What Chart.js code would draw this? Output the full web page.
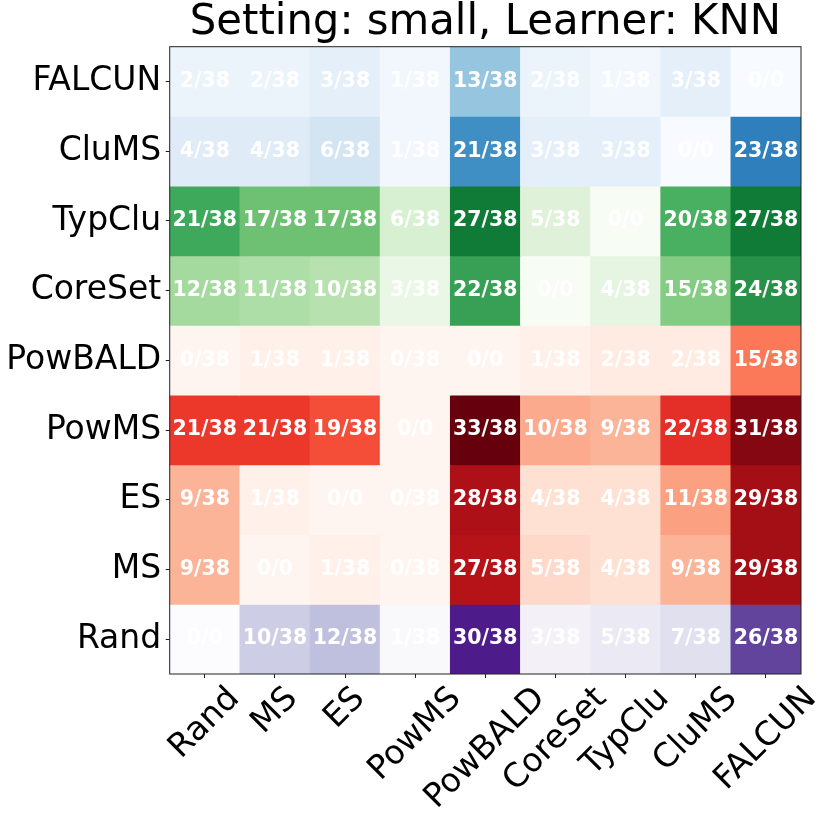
<!DOCTYPE html>
<html>
<head>
<meta charset="utf-8">
<title>Setting: small, Learner: KNN</title>
<script src="https://cdn.jsdelivr.net/npm/chart.js@4.4.0/dist/chart.umd.min.js"></script>
<style>
    html, body { margin: 0; padding: 0; background: #fff; }
    #wrap { width: 830px; height: 821px; }
</style>
</head>
<body>
<div id="wrap"><canvas id="heat"></canvas></div>
<script>
// Win matrix: row strategy vs column strategy, "wins / runs"
const columns = ['Rand', 'MS', 'ES', 'PowMS', 'PowBALD', 'CoreSet', 'TypClu', 'CluMS', 'FALCUN'];
const rows = ['FALCUN', 'CluMS', 'TypClu', 'CoreSet', 'PowBALD', 'PowMS', 'ES', 'MS', 'Rand'];

const winsFALCUN  = [2, 2, 3, 1, 13, 2, 1, 3, 0];
const winsCluMS   = [4, 4, 6, 1, 21, 3, 3, 0, 23];
const winsTypClu  = [21, 17, 17, 6, 27, 5, 0, 20, 27];
const winsCoreSet = [12, 11, 10, 3, 22, 0, 4, 15, 24];
const winsPowBALD = [0, 1, 1, 0, 0, 1, 2, 2, 15];
const winsPowMS   = [21, 21, 19, 0, 33, 10, 9, 22, 31];
const winsES      = [9, 1, 0, 0, 28, 4, 4, 11, 29];
const winsMS      = [9, 0, 1, 0, 27, 5, 4, 9, 29];
const winsRand    = [0, 10, 12, 1, 30, 3, 5, 7, 26];

const runsFALCUN  = [38, 38, 38, 38, 38, 38, 38, 38, 0];
const runsCluMS   = [38, 38, 38, 38, 38, 38, 38, 0, 38];
const runsTypClu  = [38, 38, 38, 38, 38, 38, 0, 38, 38];
const runsCoreSet = [38, 38, 38, 38, 38, 0, 38, 38, 38];
const runsPowBALD = [38, 38, 38, 38, 0, 38, 38, 38, 38];
const runsPowMS   = [38, 38, 38, 0, 38, 38, 38, 38, 38];
const runsES      = [38, 38, 0, 38, 38, 38, 38, 38, 38];
const runsMS      = [38, 0, 38, 38, 38, 38, 38, 38, 38];
const runsRand    = [0, 38, 38, 38, 38, 38, 38, 38, 38];

const wins = [winsFALCUN, winsCluMS, winsTypClu, winsCoreSet, winsPowBALD, winsPowMS, winsES, winsMS, winsRand];
const runs = [runsFALCUN, runsCluMS, runsTypClu, runsCoreSet, runsPowBALD, runsPowMS, runsES, runsMS, runsRand];

// Colour map used for each row (strategy family)
const rowCmaps = ['Blues', 'Blues', 'Greens', 'Greens', 'Reds', 'Reds', 'Reds', 'Reds', 'Purples'];

// matplotlib sequential maps (colorbrewer 9 stops)
const cmaps = {
    Blues:   ['#f7fbff', '#deebf7', '#c6dbef', '#9ecae1', '#6baed6', '#4292c6', '#2171b5', '#08519c', '#08306b'],
    Greens:  ['#f7fcf5', '#e5f5e0', '#c7e9c0', '#a1d99b', '#74c476', '#41ab5d', '#238b45', '#006d2c', '#00441b'],
    Reds:    ['#fff5f0', '#fee0d2', '#fcbba1', '#fc9272', '#fb6a4a', '#ef3b2c', '#cb181d', '#a50f15', '#67000d'],
    Purples: ['#fcfbfd', '#efedf5', '#dadaeb', '#bcbddc', '#9e9ac8', '#807dba', '#6a51a3', '#54278f', '#3f007d']
};

const FONT = "'DejaVu Sans', 'Liberation Sans', sans-serif";

function hexToRgb(h) {
    return [parseInt(h.slice(1, 3), 16), parseInt(h.slice(3, 5), 16), parseInt(h.slice(5, 7), 16)];
}

// Linear interpolation along the colour stops, t in [0, 1]
function cmapColor(name, t) {
    const stops = cmaps[name];
    const pos = Math.max(0, Math.min(1, t)) * (stops.length - 1);
    const i = Math.min(Math.floor(pos), stops.length - 2);
    const f = pos - i;
    const a = hexToRgb(stops[i]);
    const b = hexToRgb(stops[i + 1]);
    const c = a.map((v, k) => Math.round(v + (b[k] - v) * f));
    return `rgb(${c[0]}, ${c[1]}, ${c[2]})`;
}

const maxWins = Math.max(...wins.flat());

// One floating-bar dataset per row, spanning [r, r+1] on the y axis
const datasets = rows.map((name, r) => ({
    label: name,
    data: columns.map(() => [r, r + 1]),
    backgroundColor: wins[r].map(w => cmapColor(rowCmaps[r], w / maxWins)),
    borderWidth: 0,
    barPercentage: 1,
    categoryPercentage: 1,
    grouped: false
}));

// Draw "wins/runs" in each cell
const cellLabels = {
    id: 'cellLabels',
    afterDatasetsDraw(chart) {
        const ctx = chart.ctx;
        ctx.save();
        ctx.font = `bold 20.5px ${FONT}`;
        ctx.fillStyle = '#ffffff';
        ctx.textAlign = 'center';
        ctx.textBaseline = 'middle';
        chart.data.datasets.forEach((ds, r) => {
            chart.getDatasetMeta(r).data.forEach((bar, c) => {
                const p = bar.getCenterPoint();
                ctx.fillText(`${wins[r][c]}/${runs[r][c]}`, p.x, p.y);
            });
        });
        ctx.restore();
    }
};

// Frame + 45 degree x labels centred under the ticks (matplotlib style)
const frameAndLabels = {
    id: 'frameAndLabels',
    afterDraw(chart) {
        const ctx = chart.ctx;
        const area = chart.chartArea;
        const xScale = chart.scales.x;
        ctx.save();
        ctx.strokeStyle = '#222';
        ctx.lineWidth = 1;
        ctx.strokeRect(area.left, area.top, area.right - area.left, area.bottom - area.top);

        ctx.font = `33px ${FONT}`;
        ctx.fillStyle = '#000';
        ctx.textAlign = 'center';
        ctx.textBaseline = 'middle';
        const h = 33 * 1.16;
        columns.forEach((label, i) => {
            const x = xScale.getPixelForValue(i);
            const w = ctx.measureText(label).width;
            const half = (w + h) / Math.SQRT2 / 2;
            ctx.save();
            ctx.translate(x, area.bottom + 6 + half);
            ctx.rotate(-Math.PI / 4);
            ctx.fillText(label, 0, 0);
            ctx.restore();
        });
        ctx.restore();
    }
};

new Chart(document.getElementById('heat'), {
    type: 'bar',
    data: {
        labels: columns,
        datasets: datasets
    },
    options: {
        responsive: true,
        maintainAspectRatio: false,
        animation: false,
        layout: {
            padding: { left: 0, right: 29, top: 0, bottom: 0 }
        },
        plugins: {
            legend: { display: false },
            tooltip: { enabled: false },
            title: {
                display: true,
                text: 'Setting: small, Learner: KNN',
                color: '#000',
                fullSize: false,
                font: { family: FONT, size: 41.8, weight: 'normal', lineHeight: 1 },
                padding: { top: 2.5, bottom: 2.4 }
            }
        },
        scales: {
            x: {
                type: 'category',
                offset: true,
                border: { display: false },
                grid: {
                    display: true,
                    offset: false,
                    drawOnChartArea: false,
                    drawTicks: true,
                    tickLength: 4,
                    color: '#222'
                },
                ticks: { display: false },
                afterFit(scale) { scale.height = 147; }
            },
            y: {
                type: 'linear',
                min: 0,
                max: 9,
                reverse: true,
                border: { display: false },
                grid: {
                    display: true,
                    drawOnChartArea: false,
                    drawTicks: true,
                    tickLength: 4,
                    color: '#222'
                },
                afterBuildTicks(scale) {
                    scale.ticks = rows.map((_, i) => ({ value: i + 0.5 }));
                },
                ticks: {
                    autoSkip: false,
                    padding: 4.5,
                    color: '#000',
                    font: { family: FONT, size: 33 },
                    callback: (value, index) => rows[index]
                },
                afterFit(scale) { scale.width = 169.7; }
            }
        }
    },
    plugins: [cellLabels, frameAndLabels]
});
</script>
</body>
</html>
